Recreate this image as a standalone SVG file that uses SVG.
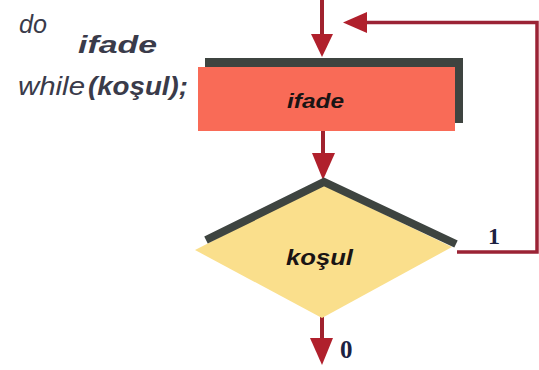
<svg xmlns="http://www.w3.org/2000/svg" width="539" height="370" viewBox="0 0 539 370">
<defs>
<style>
.code{font-family:"Liberation Sans",Arial,sans-serif;font-style:italic;fill:#3a3b4a}
.b{font-weight:bold}
.lbl{font-family:"Liberation Sans",Arial,sans-serif;font-style:italic;font-weight:bold;fill:#1a1414}
.num{font-family:"Liberation Serif","Times New Roman",serif;font-weight:bold;fill:#1c2242}
.ln{stroke:#a0222e;stroke-width:4;fill:none}
.loop{stroke:#9b2335;stroke-width:3.5;fill:none}
.head{fill:#b0202c}
</style>
</defs>
<rect width="539" height="370" fill="#ffffff"/>
<g id="code">
<text class="code" x="19" y="33" font-size="25" textLength="28" lengthAdjust="spacingAndGlyphs">do</text>
<text class="code b" x="78" y="53" font-size="23" textLength="79" lengthAdjust="spacingAndGlyphs">ifade</text>
<text class="code" x="18" y="95" font-size="26" textLength="67" lengthAdjust="spacingAndGlyphs">while</text>
<text class="code b" x="88" y="95" font-size="26" textLength="100" lengthAdjust="spacingAndGlyphs">(koşul);</text>
</g>
<g id="connectors">
<line class="ln" x1="322" y1="0" x2="322" y2="36"/>
<polygon class="head" points="311,34 333,34 322,57"/>
<line class="ln" x1="323" y1="131" x2="323" y2="156"/>
<polygon class="head" points="312,153 335,153 323,180"/>
<line class="ln" x1="322" y1="316" x2="322" y2="340"/>
<polygon class="head" points="310,338 333,338 322,365"/>
<polyline class="loop" points="457,252 537,252 537,22.5 365,22.5"/>
<polygon class="head" points="343,22.5 367,12 367,33"/>
</g>
<g id="ifade">
<rect x="205" y="58" width="258" height="65" fill="#3e4440"/>
<rect x="198" y="67" width="257" height="64" fill="#f96b57"/>
<text class="lbl" x="287" y="108" font-size="21" textLength="57" lengthAdjust="spacingAndGlyphs">ifade</text>
</g>
<g id="kosul">
<polygon points="195,250 323,185 452,247 322,318" fill="#fadf8c"/>
<polyline points="206,240 324,182 456,244" fill="none" stroke="#3e4440" stroke-width="8"/>
<text class="lbl" x="286" y="265" font-size="22" textLength="67" lengthAdjust="spacingAndGlyphs">koşul</text>
</g>
<g id="labels">
<text class="num" x="488" y="244" font-size="24">1</text>
<text class="num" x="340" y="358" font-size="25">0</text>
</g>
</svg>
